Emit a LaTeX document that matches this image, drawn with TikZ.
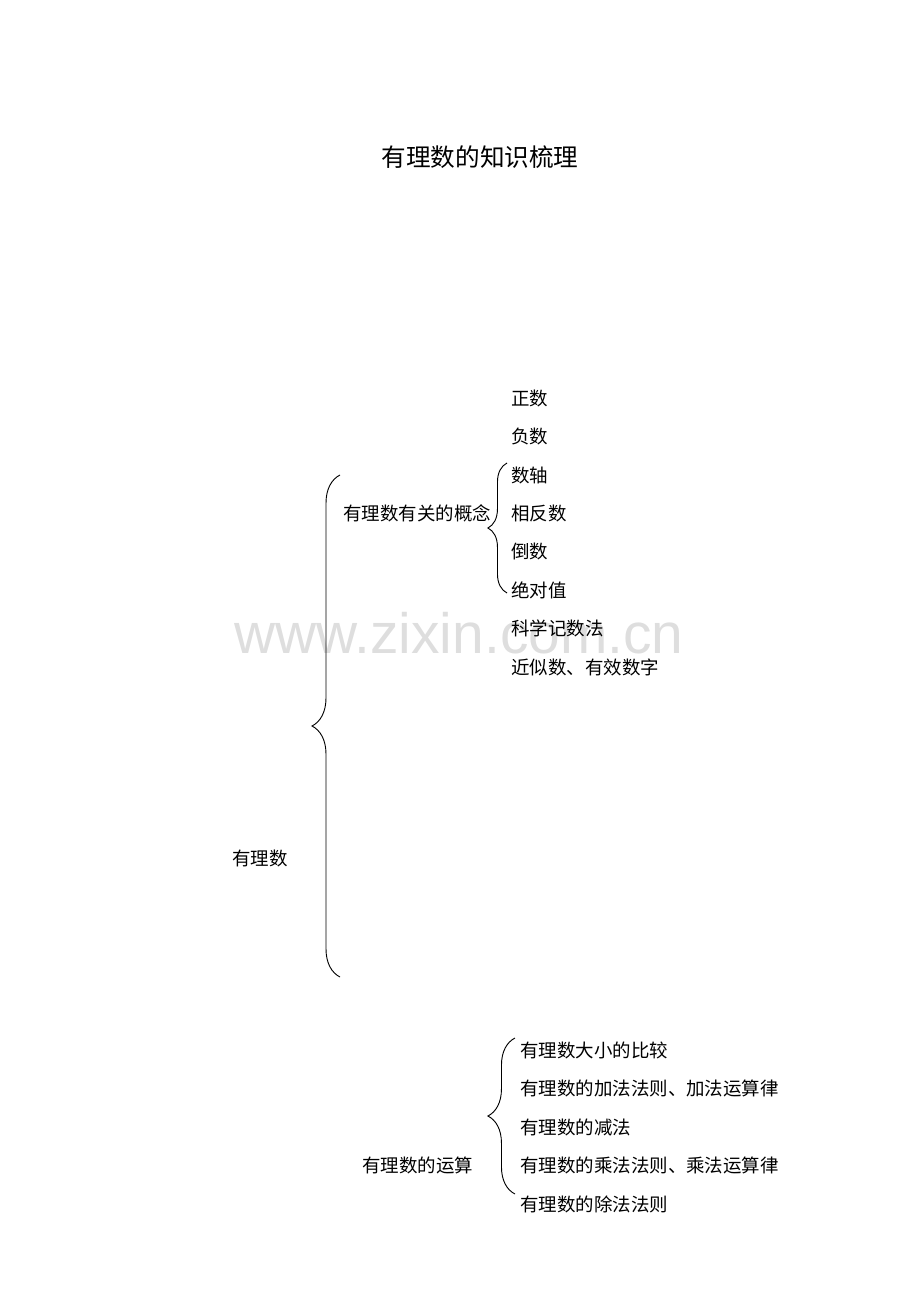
\documentclass[tikz,border=0pt]{standalone}
\usepackage{fontspec}
\setmainfont{Liberation Sans}
\newfontfamily\cjk{Noto Sans CJK SC}
\usetikzlibrary{decorations.pathreplacing}

\tikzset{
	item/.style={anchor=west,inner sep=0pt,font=\cjk\fontsize{12}{14}\selectfont},
	curly/.style={decorate,decoration={brace,amplitude=#1,aspect=0.5},line width=0.6pt},
}

\begin{document}
\begin{tikzpicture}[x=0.65pt,y=-0.65pt]
	    \useasboundingbox (0,0) rectangle (920,1302);
	    % watermark
	    \node[inner sep=0pt,text=black!13,font=\fontsize{37}{40}\selectfont] (mark) at (459,633) {www.zixin.com.cn};
	    % title
	    \node[inner sep=0pt,font=\cjk\fontsize{16}{18}\selectfont] (title) at (480,157) {有理数的知识梳理};
	    % root and branches
	    \node[item] (root) at (232,858) {有理数};
	    \node[item] (concept) at (343,513) {有理数有关的概念};
	    \node[item] (calc) at (362,1165) {有理数的运算};
	    % concept items
	    \node[item] (c1) at (511,398) {正数};
	    \node[item] (c2) at (511,436) {负数};
	    \node[item] (c3) at (511,475) {数轴};
	    \node[item] (c4) at (511,513) {相反数};
	    \node[item] (c5) at (511,551) {倒数};
	    \node[item] (c6) at (511,590) {绝对值};
	    \node[item] (c7) at (511,628) {科学记数法};
	    \node[item] (c8) at (511,667) {近似数、有效数字};
	    % calculation items
	    \node[item] (r1) at (520,1050) {有理数大小的比较};
	    \node[item] (r2) at (520,1088) {有理数的加法法则、加法运算律};
	    \node[item] (r3) at (520,1127) {有理数的减法};
	    \node[item] (r4) at (520,1165) {有理数的乘法法则、乘法运算律};
	    \node[item] (r5) at (520,1204) {有理数的除法法则};
	    % braces
	    \coordinate (bigtop) at (340,475);
	    \coordinate (bigbot) at (340,977);
	    \coordinate (ctop) at (507,463);
	    \coordinate (cbot) at (507,593);
	    \coordinate (rtop) at (515,1038);
	    \coordinate (rbot) at (515,1194);
	    \draw[curly=18.2pt] (bigbot) -- (bigtop);
	    \draw[curly=12.4pt] (cbot) -- (ctop);
	    \draw[curly=17.6pt] (rbot) -- (rtop);
	\end{tikzpicture}
\end{document}
